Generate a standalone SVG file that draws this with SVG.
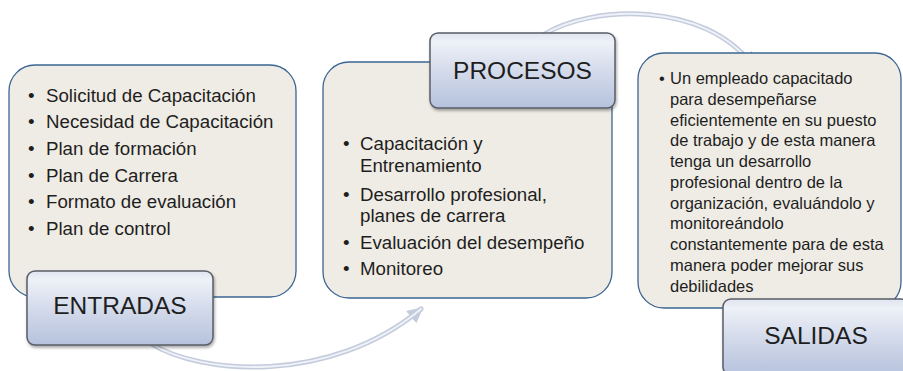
<svg xmlns="http://www.w3.org/2000/svg" width="903" height="371" viewBox="0 0 903 371">
<style>
.box{fill:#efece5;stroke:#3b6593;stroke-width:1.3}
.lbl{fill:url(#lg);stroke:#5a5d66;stroke-width:1.5;filter:url(#sh)}
.lt{font-family:"Liberation Sans",Arial,sans-serif;font-size:24.5px;fill:#1e1e1e;text-anchor:middle}
.bt{font-family:"Liberation Sans",Arial,sans-serif;font-size:18.7px;fill:#1e1e1e}
.st{font-family:"Liberation Sans",Arial,sans-serif;font-size:16.5px;fill:#1e1e1e}
.arc{fill:none;stroke:#c3cbdc;stroke-width:5;stroke-linecap:round}
.arci{fill:none;stroke:#eef1f7;stroke-width:2;stroke-linecap:round}
</style>
<defs>
<linearGradient id="lg" x1="0" y1="0" x2="0" y2="1">
<stop offset="0" stop-color="#dfe4ef"/>
<stop offset="0.12" stop-color="#eef1f8"/>
<stop offset="0.5" stop-color="#d4dbeb"/>
<stop offset="1" stop-color="#b6c2dd"/>
</linearGradient>
<filter id="sh" x="-10%" y="-10%" width="120%" height="130%">
<feDropShadow dx="1" dy="2" stdDeviation="1.5" flood-color="#000" flood-opacity="0.35"/>
</filter>
<marker id="ah" viewBox="0 0 10 10" refX="8" refY="5" markerWidth="3.2" markerHeight="3.2" orient="auto" markerUnits="strokeWidth">
<path d="M0,0 L10,5 L0,10 z" fill="#c3cbdc"/>
</marker>
</defs>
<g id="connectors">
<path class="arc" d="M150 343 C200 375 330 385 421 309" marker-end="url(#ah)"/>
<path class="arci" d="M150 343 C200 375 330 385 421 309"/>
<path class="arc" d="M543 35 C590 5 705 0 753 66" marker-end="url(#ah)"/>
<path class="arci" d="M543 35 C590 5 705 0 753 66"/>
</g>
<g id="entradas">
<rect class="box" x="9" y="65" width="287" height="232" rx="26"/>
<g class="bt">
<text x="28" y="101.5">•</text><text x="46" y="101.5">Solicitud de Capacitación</text>
<text x="28" y="128.2">•</text><text x="46" y="128.2">Necesidad de Capacitación</text>
<text x="28" y="154.9">•</text><text x="46" y="154.9">Plan de formación</text>
<text x="28" y="181.6">•</text><text x="46" y="181.6">Plan de Carrera</text>
<text x="28" y="208.3">•</text><text x="46" y="208.3">Formato de evaluación</text>
<text x="28" y="235">•</text><text x="46" y="235">Plan de control</text>
</g>
<rect class="lbl" x="27" y="271" width="186" height="74" rx="8"/>
<text class="lt" x="120" y="314">ENTRADAS</text>
</g>
<g id="procesos">
<rect class="box" x="323" y="62" width="289" height="236" rx="26"/>
<g class="bt">
<text x="343" y="149.5">•</text><text x="360" y="149.5">Capacitación y</text>
<text x="360" y="171.5">Entrenamiento</text>
<text x="343" y="200.5">•</text><text x="360" y="200.5">Desarrollo profesional,</text>
<text x="360" y="221.5">planes de carrera</text>
<text x="343" y="248.5">•</text><text x="360" y="248.5">Evaluación del desempeño</text>
<text x="343" y="274.5">•</text><text x="360" y="274.5">Monitoreo</text>
</g>
<rect class="lbl" x="430" y="33" width="185" height="75" rx="8"/>
<text class="lt" x="522.5" y="79">PROCESOS</text>
</g>
<g id="salidas">
<rect class="box" x="638" y="53" width="263" height="255" rx="26"/>
<g class="st">
<text x="659" y="84">•</text>
<text x="670" y="84">Un empleado capacitado</text>
<text x="670" y="104.75">para desempeñarse</text>
<text x="670" y="125.5">eficientemente en su puesto</text>
<text x="670" y="146.25">de trabajo y de esta manera</text>
<text x="670" y="167">tenga un desarrollo</text>
<text x="670" y="187.75">profesional dentro de la</text>
<text x="670" y="208.5">organización, evaluándolo y</text>
<text x="670" y="229.25">monitoreándolo</text>
<text x="670" y="250">constantemente para de esta</text>
<text x="670" y="270.75">manera poder mejorar sus</text>
<text x="670" y="291.5">debilidades</text>
</g>
<rect class="lbl" x="723" y="299" width="186" height="76" rx="8"/>
<text class="lt" x="816" y="344">SALIDAS</text>
</g>
</svg>
